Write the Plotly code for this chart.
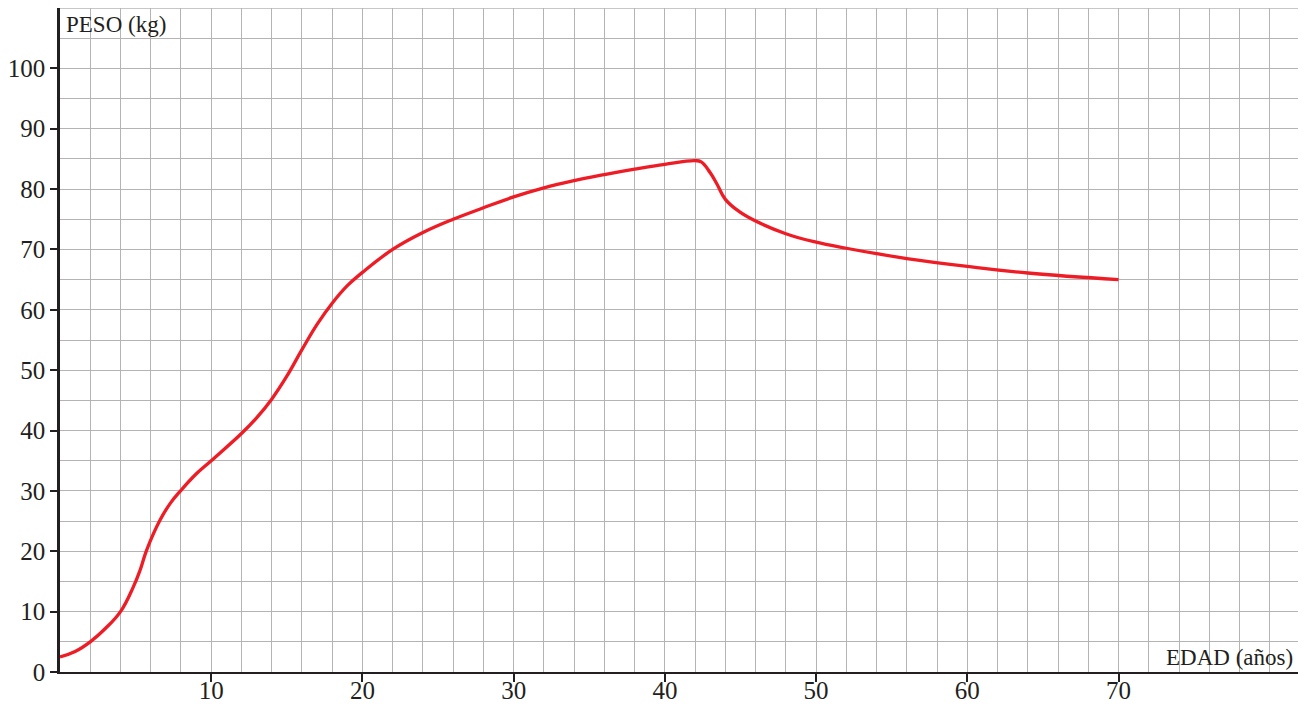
import plotly.graph_objects as go

# Data (edad in años, peso in kg)
edad = [0, 1, 2, 3, 4, 4.85, 5.3, 5.73, 6.6, 7.28, 8, 9, 10, 12, 13, 14, 15, 16, 17, 18, 19, 20,
        22, 24, 26, 28, 30, 32, 34, 36, 38, 40, 42, 42.4, 43, 43.45, 44, 44.9, 46, 48, 50,
        52, 54, 56, 60, 64, 70]
peso = [2.5, 3.4, 5.0, 7.2, 10.0, 14.1, 16.9, 20.2, 25.1, 27.9, 30.1, 32.8, 35.0, 39.5, 42.1, 45.2, 49.0, 53.4, 57.6, 61.1, 64.0, 66.2,
        70.0, 72.8, 75.0, 76.9, 78.7, 80.2, 81.4, 82.4, 83.3, 84.1, 84.7, 84.5, 82.7, 80.8, 78.3, 76.3, 74.7, 72.6, 71.2,
        70.2, 69.3, 68.5, 67.2, 66.1, 65.0]

x_ticks = [10, 20, 30, 40, 50, 60, 70]
y_ticks = [0, 10, 20, 30, 40, 50, 60, 70, 80, 90, 100]

FONT = "Liberation Serif"
GRID = "#b4b4b4"
INK = "#231f20"

fig = go.Figure()
fig.add_trace(go.Scatter(
    x=edad, y=peso, mode="lines",
    line=dict(color="#ee1c25", width=3.3, shape="spline", smoothing=1.2),
    hoverinfo="x+y", showlegend=False,
))

# The page body adds an 8px margin, so the figure is 8px smaller and the
# left/top margins are reduced by 8px to land the plot where the reference has it.
fig.update_layout(
    width=1298, height=698,
    margin=dict(l=52, r=6, t=0, b=34, pad=0, autoexpand=False),
    paper_bgcolor="white", plot_bgcolor="white",
    font=dict(family=FONT, color=INK, size=25),
    xaxis=dict(
        range=[0, 82], tickvals=x_ticks, ticktext=[str(v) for v in x_ticks],
        showgrid=True, gridcolor=GRID, gridwidth=1.3,
        minor=dict(dtick=2, tick0=0, showgrid=True, gridcolor=GRID, gridwidth=1.3, ticks=""),
        showline=True, linecolor=INK, linewidth=2,
        ticks="outside", ticklen=8, tickwidth=2, tickcolor=INK,
        ticklabelstandoff=-13,
        zeroline=False, tickfont=dict(size=25, family=FONT, color=INK),
        automargin=False, fixedrange=True,
    ),
    yaxis=dict(
        range=[0, 110], tickvals=y_ticks, ticktext=[str(v) for v in y_ticks],
        showgrid=True, gridcolor=GRID, gridwidth=1.3,
        minor=dict(dtick=5, tick0=0, showgrid=True, gridcolor=GRID, gridwidth=1.3, ticks=""),
        showline=True, linecolor=INK, linewidth=2.5,
        ticks="outside", ticklen=7, tickwidth=2, tickcolor=INK,
        zeroline=False, tickfont=dict(size=25, family=FONT, color=INK),
        automargin=False, fixedrange=True,
    ),
    shapes=[
        dict(type="line", xref="paper", yref="paper", x0=0, x1=1, y0=1, y1=1,
             line=dict(color=GRID, width=1.5)),
        dict(type="line", xref="paper", yref="paper", x0=1, x1=1, y0=0, y1=1,
             line=dict(color=GRID, width=1.5)),
    ],
    annotations=[
        dict(text="PESO (kg)", xref="paper", yref="paper", x=0.003, y=0.997,
             xanchor="left", yanchor="top", showarrow=False,
             font=dict(family=FONT, size=23, color=INK)),
        dict(text="EDAD (años)", xref="paper", yref="paper", x=0.996, y=0.0,
             xanchor="right", yanchor="bottom", showarrow=False,
             font=dict(family=FONT, size=23, color=INK)),
    ],
)

fig.write_html("out.html")
